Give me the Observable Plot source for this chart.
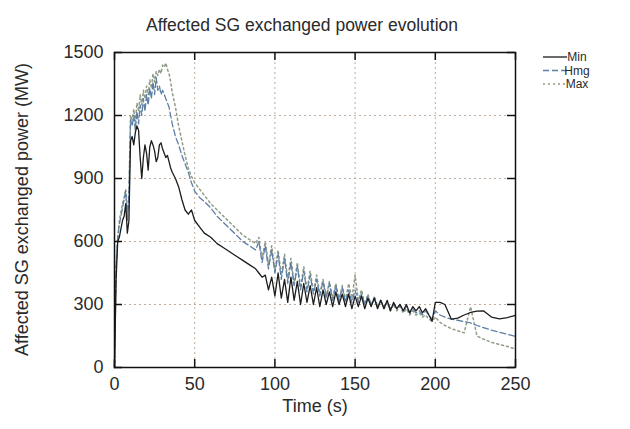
<!DOCTYPE html>
<html>
<head>
<meta charset="utf-8">
<script src="https://cdn.jsdelivr.net/npm/d3@7"></script>
<script src="https://cdn.jsdelivr.net/npm/@observablehq/plot@0.6"></script>
<style>
  html, body { margin: 0; padding: 0; background: #fff; }
  #chart svg { display: block; }
</style>
</head>
<body>
<div id="chart"></div>
<script>
// ---- Data ----
const title = "Affected SG exchanged power evolution";
const xLabel = "Time (s)";
const yLabel = "Affected SG exchanged power (MW)";
const seriesNames = ["Min", "Hmg", "Max"];
const xTicks = [0, 50, 100, 150, 200, 250];
const yTicks = [0, 300, 600, 900, 1200, 1500];

const time = [
  0,1,2,3,4,5,6,7,8,9,10,11,12,13,14,15,16,17,18,19,20,21,22,23,24,25,26,27,28,29,30,31,32,33,34,35,36,
  38,40,42,44,46,48,50,
  53,56,
  60,64,68,72,76,80,84,88,
  90,92,94,96,98,100,102,104,106,108,110,112,114,116,118,120,122,124,126,128,130,132,134,136,138,140,
  142,144,146,148,150,152,154,156,158,160,162,164,166,168,170,172,174,176,178,180,182,184,186,188,190,
  192,194,196,198,200,
  203,206,210,214,218,222,226,230,235,240,245,250
];

const minValues = [
  0,420,600,620,660,700,720,780,640,700,1080,1100,1060,1120,1150,1130,1000,900,1000,1060,1020,940,1050,1080,1060,1030,980,1000,1060,1070,1040,1020,1000,1010,980,950,930,
  900,860,800,750,730,750,700,
  670,640,
  620,590,570,550,530,510,490,470,
  450,430,440,370,430,340,450,330,420,310,430,320,410,300,400,310,390,300,380,290,370,300,360,290,360,300,
  350,290,350,280,340,290,340,280,330,290,330,280,320,280,320,270,310,280,300,270,300,260,290,270,290,
  260,280,250,220,310,
  310,300,230,235,250,262,268,270,240,232,238,248
];

const hmgValues = [
  0,480,620,680,720,760,800,840,700,820,1180,1150,1200,1130,1220,1160,1250,1200,1280,1220,1300,1250,1330,1280,1360,1300,1380,1320,1340,1300,1320,1300,1280,1260,1240,1200,1160,
  1100,1060,1010,970,930,880,840,
  810,790,
  760,720,690,660,630,600,580,560,
  600,500,580,470,560,450,540,420,520,400,500,390,480,370,460,360,440,350,420,340,410,330,400,320,390,320,
  380,310,370,310,370,310,350,300,340,300,330,290,320,290,310,280,300,280,300,270,290,260,280,260,270,
  250,270,250,230,270,
  250,240,230,225,218,212,200,190,178,168,158,148
];

const maxValues = [
  0,490,610,700,740,780,810,850,720,840,1200,1180,1230,1170,1260,1220,1300,1250,1320,1280,1340,1300,1370,1330,1400,1360,1410,1390,1420,1400,1440,1430,1450,1420,1400,1360,1310,
  1240,1150,1080,1010,950,910,880,
  850,820,
  780,750,720,690,660,630,610,590,
  620,520,600,490,580,460,560,440,540,420,520,400,500,380,480,370,460,360,440,350,420,340,410,330,400,320,
  390,320,400,330,440,320,370,300,350,290,340,290,320,280,310,270,300,270,290,260,280,250,270,250,260,
  240,250,230,220,240,
  215,200,185,175,165,290,150,135,120,110,100,88
];

// ---- Build table ----
const valueArrays = [minValues, hmgValues, maxValues];
valueArrays.forEach((arr, k) => {
  if (arr.length !== time.length) throw new Error(seriesNames[k] + " length " + arr.length + " vs " + time.length);
});
const rows = [];
seriesNames.forEach((s, k) => time.forEach((t, i) => rows.push({t, v: valueArrays[k][i], s})));

const styles = {
  Min: {stroke: "#1c1c1c", strokeWidth: 1.3, strokeDasharray: null},
  Hmg: {stroke: "#5d7fa6", strokeWidth: 1.3, strokeDasharray: "6,3"},
  Max: {stroke: "#8f9c86", strokeWidth: 1.5, strokeDasharray: "2,3"}
};

const W = 630, H = 429;
const mL = 114, mR = 115, mT = 52, mB = 62;
const fw = W - mL - mR, fh = H - mT - mB;
const tick = 8;
const font = "Liberation Sans, Arial, sans-serif";
const ink = "#2a2a2a";

const plot = Plot.plot({
  width: W, height: H,
  marginLeft: mL, marginRight: mR, marginTop: mT, marginBottom: mB,
  style: {fontFamily: font, fontSize: "18px", color: ink, background: "#fff"},
  x: {domain: [0, 250], ticks: xTicks},
  y: {domain: [0, 1500], ticks: yTicks},
  marks: [
    Plot.ruleX(xTicks.slice(1, -1), {stroke: "#b9a493", strokeDasharray: "2,3", strokeWidth: 1, strokeOpacity: 0.9}),
    Plot.ruleY(yTicks.slice(1, -1), {stroke: "#b9a493", strokeDasharray: "2,3", strokeWidth: 1, strokeOpacity: 0.9}),
    ...seriesNames.slice().reverse().map(s => Plot.line(rows.filter(d => d.s === s), {
      x: "t", y: "v",
      stroke: styles[s].stroke, strokeWidth: styles[s].strokeWidth,
      strokeDasharray: styles[s].strokeDasharray, curve: "linear"
    })),
    // inward ticks
    Plot.ruleX(xTicks, {stroke: "#111", strokeWidth: 1.5, insetTop: fh - tick}),
    Plot.ruleX(xTicks, {stroke: "#111", strokeWidth: 1.5, insetBottom: fh - tick}),
    Plot.ruleY(yTicks, {stroke: "#111", strokeWidth: 1.5, insetRight: fw - tick}),
    Plot.ruleY(yTicks, {stroke: "#111", strokeWidth: 1.5, insetLeft: fw - tick}),
    Plot.frame({stroke: "#111", strokeWidth: 1.5}),
    Plot.axisX(xTicks, {tickSize: 0, tickPadding: 10, label: null, fontSize: 18, fill: ink, tickFormat: d => String(d)}),
    Plot.axisY(yTicks, {tickSize: 0, tickPadding: 11, label: null, fontSize: 18, fill: ink, tickFormat: d => String(d)}),
    Plot.text([xLabel], {frameAnchor: "bottom", dy: 44, fontSize: 18, fill: ink}),
    Plot.text([title], {frameAnchor: "top", dx: -13, dy: -34, fontSize: 17.5, fill: ink})
  ]
});

const svg = d3.select(plot);
// Rotated y-axis label
svg.append("text")
  .attr("transform", `translate(22,${mT + fh / 2}) rotate(-90)`)
  .attr("text-anchor", "middle").attr("dy", "0.35em")
  .attr("font-family", font).attr("font-size", 18).attr("fill", ink)
  .text(yLabel);

// Legend (top right, outside frame)
const lg = svg.append("g").attr("font-family", font).attr("font-size", 12).attr("fill", ink);
seriesNames.forEach((s, i) => {
  const y = 57 + i * 13.5;
  lg.append("line").attr("x1", 543).attr("x2", 567).attr("y1", y).attr("y2", y)
    .attr("stroke", styles[s].stroke).attr("stroke-width", styles[s].strokeWidth)
    .attr("stroke-dasharray", styles[s].strokeDasharray);
  lg.append("text").attr("x", 577).attr("y", y).attr("dy", "0.35em").text(s);
});

document.getElementById("chart").appendChild(plot);
</script>
</body>
</html>
